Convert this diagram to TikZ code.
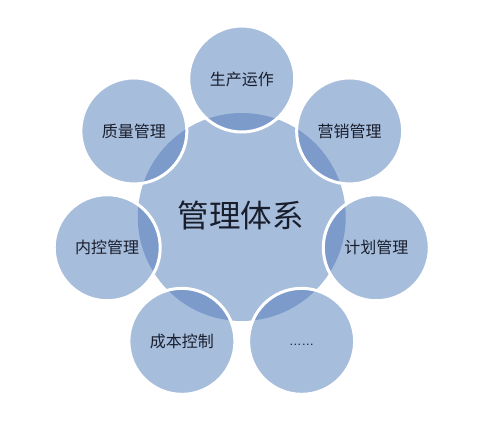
\documentclass[tikz,border=0pt]{standalone}
\usepackage{fontspec}
\usetikzlibrary{calc}
\setmainfont{Noto Sans CJK SC}
\newfontfamily\latinfont{Liberation Sans}
\definecolor{lightblue}{RGB}{167,189,220}
\definecolor{darkblue}{RGB}{124,155,203}
\definecolor{txt}{RGB}{25,30,45}
\tikzset{
  hub/.style={circle, fill=lightblue, inner sep=0pt, minimum size=208pt},
  sat/.style={circle, fill=lightblue, inner sep=0pt, minimum size=106pt},
  sattext/.style={text=txt, font=\fontsize{16pt}{18pt}\selectfont, inner sep=0pt},
  hubtext/.style={text=txt, font=\fontsize{31.5pt}{34pt}\selectfont, inner sep=0pt},
  ring/.style={draw=white, line width=3pt}
}
\begin{document}
\begin{tikzpicture}[x=1pt,y=-1pt]
\useasboundingbox (0,0) rectangle (500,420);
\node[hub] (c) at (241.75,217) {};
\foreach \i/\a in {1/-90,2/-38.57,3/12.86,4/64.29,5/115.71,6/167.14,7/218.57}{
  \node[sat] (o\i) at ($(c.center)+(\a:138)$) {};
  \begin{scope}
    \clip (c.center) circle (104);
    \fill[darkblue] (o\i.center) circle (53);
  \end{scope}
  \draw[ring] (o\i.center) circle (53);
}
\node[hubtext] (tc) at ($(c.center)+(-1,-2)$) {管理体系};
\node[sattext] (t1) at (o1.center) {生产运作};
\node[sattext] (t2) at (o2.center) {营销管理};
\node[sattext] (t3) at (o3.center) {计划管理};
\node[sattext, font=\latinfont\fontsize{12.5pt}{14pt}\selectfont] (t4) at ($(o4.center)+(0,3.5)$) {……};
\node[sattext] (t5) at (o5.center) {成本控制};
\node[sattext] (t6) at (o6.center) {内控管理};
\node[sattext] (t7) at (o7.center) {质量管理};
\end{tikzpicture}
\end{document}
